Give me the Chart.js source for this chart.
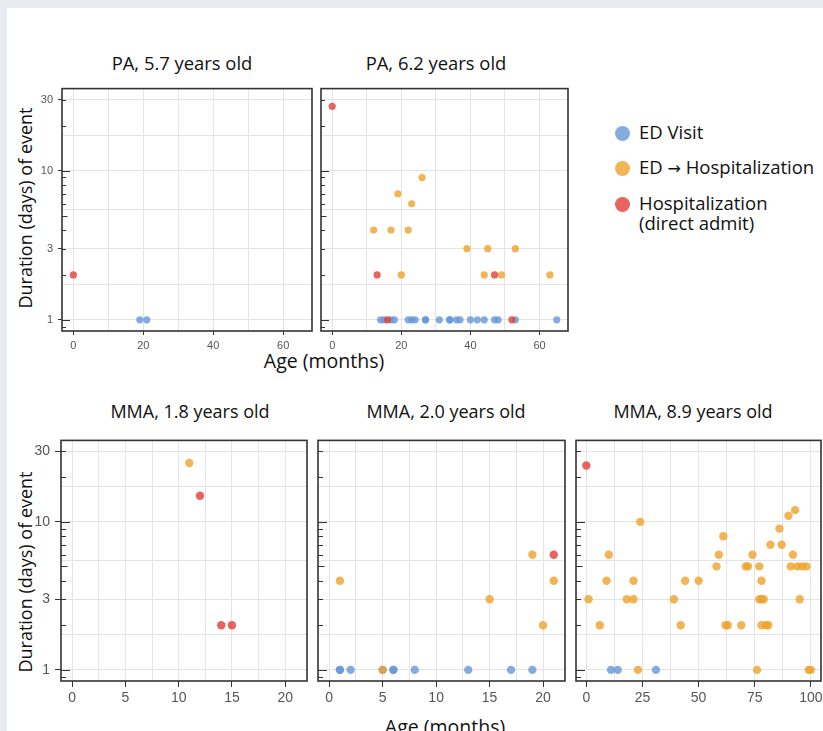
<!DOCTYPE html>
<html>
<head>
<meta charset="utf-8">
<title>Event duration by age</title>
<script src="https://cdn.jsdelivr.net/npm/chart.js@4.4.1/dist/chart.umd.min.js"></script>
<style>
    body {
        margin: 0;
        width: 823px;
        height: 731px;
        background: #fff;
        position: relative;
        overflow: hidden;
        font-family: "Open Sans", sans-serif;
        color: #111;
    }
    .frame-top { position: absolute; left: 0; top: 0; width: 823px; height: 8px; background: #e8ecf0; }
    .frame-left { position: absolute; left: 0; top: 0; width: 7px; height: 731px; background: #e8ecf0; }
    .panel { position: absolute; }
    .label { position: absolute; white-space: nowrap; line-height: 22px; transform: translateX(-50%); }
    .title-top { font-size: 18.4px; }
    .title-bottom { font-size: 18px; }
    .axis-title { font-size: 19.5px; }
    .y-title { position: absolute; white-space: nowrap; font-size: 18px; line-height: 20px;
               transform: translate(-50%, -50%) rotate(-90deg); }
    .legend { position: absolute; left: 615px; top: 122px; font-size: 18.5px; line-height: 19.5px; }
    .legend-item { position: relative; padding-left: 24px; margin-bottom: 15px; }
    .legend-dot { position: absolute; left: 0; top: 4px; width: 15px; height: 15px; border-radius: 50%; }
    .arrow { font-family: "DejaVu Sans", sans-serif; font-size: 16px; }
</style>
</head>
<body>
<div class="frame-top"></div>
<div class="frame-left"></div>

<div class="label title-top" style="left:182px; top:52px;">PA, 5.7 years old</div>
<div class="label title-top" style="left:436px; top:52px;">PA, 6.2 years old</div>
<div class="label title-bottom" style="left:190px; top:400px;">MMA, 1.8 years old</div>
<div class="label title-bottom" style="left:446px; top:400px;">MMA, 2.0 years old</div>
<div class="label title-bottom" style="left:693px; top:400px;">MMA, 8.9 years old</div>

<div class="y-title" style="left:25px; top:208px;">Duration (days) of event</div>
<div class="y-title" style="left:25px; top:572px;">Duration (days) of event</div>
<div class="label axis-title" style="left:324px; top:350px;">Age (months)</div>
<div class="label axis-title" style="left:445px; top:716px;">Age (months)</div>

<div class="legend">
    <div class="legend-item"><span class="legend-dot" style="background:rgba(102,151,216,0.8)"></span>ED Visit</div>
    <div class="legend-item"><span class="legend-dot" style="background:rgba(239,161,43,0.8)"></span>ED <span class="arrow">&rarr;</span> Hospitalization</div>
    <div class="legend-item"><span class="legend-dot" style="background:rgba(226,61,55,0.8)"></span>Hospitalization<br>(direct admit)</div>
</div>

<script>
// [age in months, duration in days]
const pa57EdVisit = [[19, 1], [21, 1]];
const pa57EdHosp = [];
const pa57Direct = [[0, 2]];

const pa62EdVisit = [[14, 1], [15, 1], [17, 1], [18, 1], [22, 1], [23, 1], [24, 1], [27, 1], [27, 1],
    [31, 1], [34, 1], [34, 1], [36, 1], [37, 1], [40, 1], [42, 1], [44, 1], [47, 1], [48, 1], [53, 1], [65, 1]];
const pa62EdHosp = [[12, 4], [17, 4], [22, 4], [19, 7], [23, 6], [26, 9], [20, 2], [39, 3], [45, 3],
    [53, 3], [44, 2], [49, 2], [63, 2]];
const pa62Direct = [[0, 27], [13, 2], [47, 2], [16, 1], [52, 1]];

const mma18EdVisit = [];
const mma18EdHosp = [[11, 25]];
const mma18Direct = [[12, 15], [14, 2], [15, 2]];

const mma20EdVisit = [[1, 1], [1, 1], [2, 1], [5, 1], [6, 1], [6, 1], [8, 1], [13, 1], [17, 1], [19, 1]];
const mma20EdHosp = [[1, 4], [5, 1], [15, 3], [19, 6], [20, 2], [21, 4]];
const mma20Direct = [[21, 6]];

const mma89EdVisit = [[11, 1], [14, 1], [31, 1]];
const mma89EdHosp = [[1, 3], [6, 2], [9, 4], [10, 6], [18, 3], [21, 4], [21, 3], [23, 1], [24, 10],
    [39, 3], [42, 2], [44, 4], [50, 4], [58, 5], [59, 6], [61, 8], [62, 2], [63, 2], [69, 2], [71, 5],
    [72, 5], [74, 6], [76, 1], [77, 5], [78, 4], [77, 3], [78, 3], [79, 3], [78, 2], [80, 2], [81, 2],
    [82, 7], [86, 9], [87, 7], [90, 11], [91, 5], [92, 6], [93, 12], [94, 5], [95, 3], [96, 5], [98, 5],
    [99, 1], [100, 1]];
const mma89Direct = [[0, 24]];

// axis breaks
const yLabelTicks = [1, 3, 10, 30];
const yGridTicks = [1, 1.732, 3, 5.477, 10, 17.32, 30];
const yLogTicks = [0.9, 1, 2, 3, 4, 5, 6, 7, 8, 9, 10, 20, 30];
const xTicksPA = [0, 20, 40, 60];
const xGridPA = [0, 10, 20, 30, 40, 50, 60];
const xTicksMMA = [0, 5, 10, 15, 20];
const xGridMMA = [0, 2.5, 5, 7.5, 10, 12.5, 15, 17.5, 20];
const xTicksMMA89 = [0, 25, 50, 75, 100];
const xGridMMA89 = [0, 12.5, 25, 37.5, 50, 62.5, 75, 87.5, 100];

const BLUE = 'rgba(102,151,216,0.8)';
const ORANGE = 'rgba(239,161,43,0.8)';
const RED = 'rgba(226,61,55,0.8)';

const AXIS_W = 45;
const PAD_T = 6;
const PAD_R = 6;

const panels = [
    { id: 'pa57', left: 62, top: 83, right: 312, bottom: 331, xMin: -3.25, xMax: 68.25, xTicks: xTicksPA, xGrid: xGridPA,
      ed: pa57EdVisit, edHosp: pa57EdHosp, direct: pa57Direct, yLabels: true, big: false },
    { id: 'pa62', left: 321, top: 83, right: 568, bottom: 331, xMin: -3.25, xMax: 68.25, xTicks: xTicksPA, xGrid: xGridPA,
      ed: pa62EdVisit, edHosp: pa62EdHosp, direct: pa62Direct, yLabels: false, big: false },
    { id: 'mma18', left: 61, top: 433, right: 307, bottom: 681, xMin: -1.05, xMax: 22.05, xTicks: xTicksMMA, xGrid: xGridMMA,
      ed: mma18EdVisit, edHosp: mma18EdHosp, direct: mma18Direct, yLabels: true, big: true },
    { id: 'mma20', left: 318, top: 433, right: 565, bottom: 681, xMin: -1.05, xMax: 22.05, xTicks: xTicksMMA, xGrid: xGridMMA,
      ed: mma20EdVisit, edHosp: mma20EdHosp, direct: mma20Direct, yLabels: false, big: true },
    { id: 'mma89', left: 576, top: 433, right: 821, bottom: 681, xMin: -4.6, xMax: 104.5, xTicks: xTicksMMA89, xGrid: xGridMMA89,
      ed: mma89EdVisit, edHosp: mma89EdHosp, direct: mma89Direct, yLabels: false, big: true }
];

const toPoints = arr => arr.map(d => ({ x: d[0], y: d[1] }));

// log ticks inside the panel + dark panel border
const panelFrame = {
    id: 'panelFrame',
    afterDraw(chart) {
        const { ctx, chartArea: a } = chart;
        const y = chart.scales.y;
        const big = chart.options.plugins.panelFrame.big;
        ctx.save();
        ctx.strokeStyle = '#333';
        ctx.lineWidth = 1;
        yLogTicks.forEach(v => {
            const py = Math.round(y.getPixelForValue(v)) + 0.5;
            let len = big ? 5 : 4;
            if (v === 1 || v === 10) len = big ? 9 : 8;
            else if (v === 5) len = big ? 6.5 : 5.5;
            ctx.beginPath();
            ctx.moveTo(a.left, py);
            ctx.lineTo(a.left + len, py);
            ctx.stroke();
        });
        ctx.lineWidth = 1.6;
        ctx.strokeRect(a.left, a.top, a.right - a.left, a.bottom - a.top);
        ctx.restore();
    }
};

function makePanel(p) {
    const axisH = p.big ? 30 : 25;
    const wrap = document.createElement('div');
    wrap.className = 'panel';
    wrap.style.left = (p.left - AXIS_W) + 'px';
    wrap.style.top = (p.top - PAD_T) + 'px';
    wrap.style.width = (AXIS_W + p.right - p.left + PAD_R) + 'px';
    wrap.style.height = (PAD_T + p.bottom - p.top + axisH) + 'px';
    const canvas = document.createElement('canvas');
    canvas.id = p.id;
    wrap.appendChild(canvas);
    document.body.appendChild(wrap);

    const fontSize = p.big ? 14 : 11;
    const tickLen = p.big ? 6 : 4;
    const radius = p.big ? 4.2 : 3.6;

    new Chart(canvas, {
        type: 'scatter',
        data: {
            datasets: [
                { label: 'Hospitalization (direct admit)', data: toPoints(p.direct), backgroundColor: RED },
                { label: 'ED \u2192 Hospitalization', data: toPoints(p.edHosp), backgroundColor: ORANGE },
                { label: 'ED Visit', data: toPoints(p.ed), backgroundColor: BLUE }
            ]
        },
        options: {
            responsive: true,
            maintainAspectRatio: false,
            animation: false,
            layout: { padding: { top: PAD_T, right: PAD_R, left: 0, bottom: 0 }, autoPadding: false },
            elements: { point: { radius: radius, borderWidth: 0, hoverRadius: radius } },
            plugins: {
                legend: { display: false },
                tooltip: { enabled: false },
                panelFrame: { big: p.big }
            },
            scales: {
                x: {
                    type: 'linear',
                    min: p.xMin,
                    max: p.xMax,
                    afterFit: s => { s.height = axisH; },
                    afterBuildTicks: s => { s.ticks = p.xGrid.map(v => ({ value: v })); },
                    ticks: {
                        autoSkip: false,
                        maxRotation: 0,
                        padding: p.big ? 3 : 4,
                        color: '#555',
                        font: { family: 'Liberation Sans', size: fontSize },
                        callback: v => p.xTicks.includes(v) ? String(v) : ''
                    },
                    grid: {
                        color: '#e4e4e4',
                        lineWidth: 1,
                        tickLength: tickLen,
                        tickColor: ctx => p.xTicks.includes(ctx.tick.value) ? '#333' : 'rgba(0,0,0,0)'
                    },
                    border: { display: false }
                },
                y: {
                    type: 'logarithmic',
                    min: 0.841,
                    max: 35.5,
                    afterFit: s => { s.width = AXIS_W; },
                    afterBuildTicks: s => { s.ticks = yGridTicks.map(v => ({ value: v })); },
                    ticks: {
                        autoSkip: false,
                        padding: 5,
                        color: '#555',
                        font: { family: 'Liberation Sans', size: fontSize },
                        callback: v => (p.yLabels && yLabelTicks.includes(v)) ? String(v) : ''
                    },
                    grid: {
                        color: '#e4e4e4',
                        lineWidth: 1,
                        tickLength: tickLen,
                        tickColor: ctx => (p.yLabels && yLabelTicks.includes(ctx.tick.value)) ? '#333' : 'rgba(0,0,0,0)'
                    },
                    border: { display: false }
                }
            }
        },
        plugins: [panelFrame]
    });
}

panels.forEach(makePanel);
</script>
</body>
</html>
